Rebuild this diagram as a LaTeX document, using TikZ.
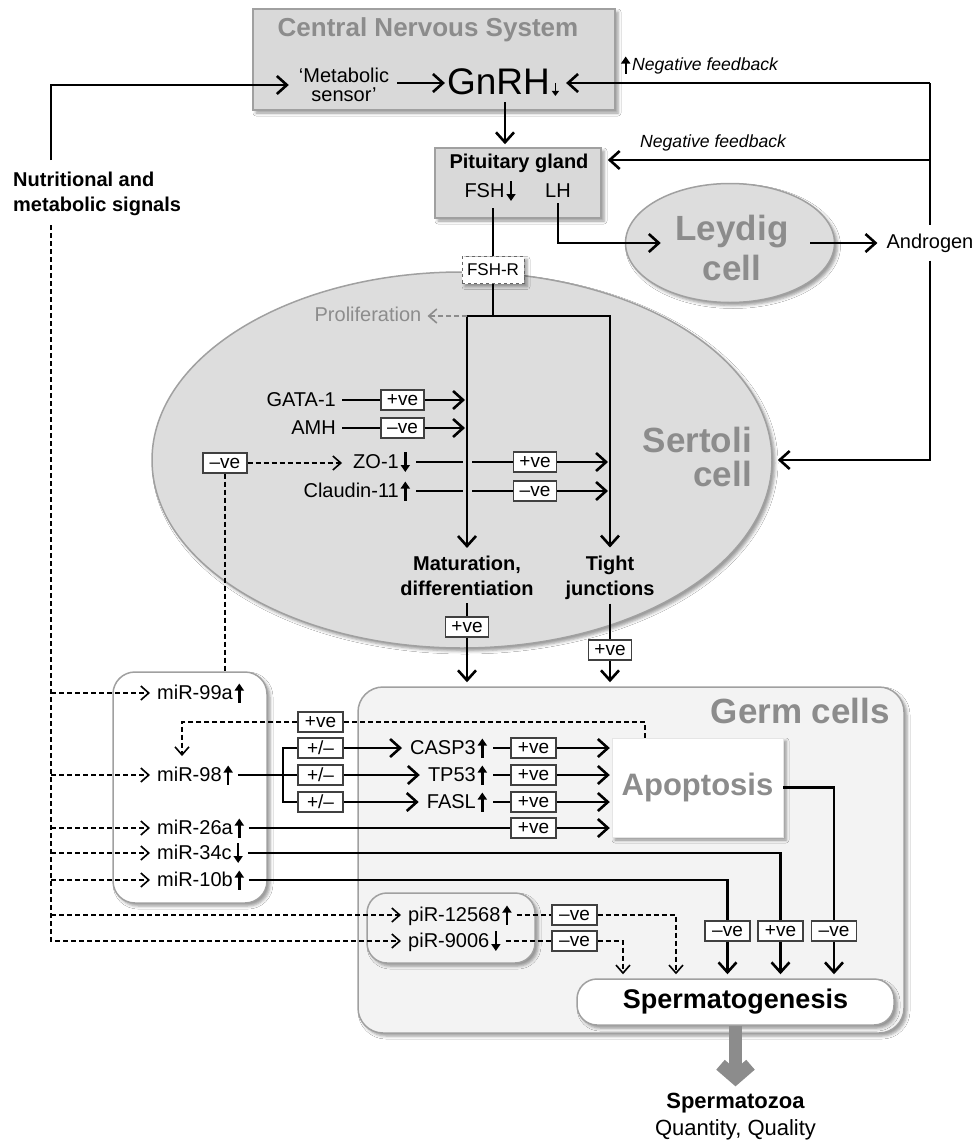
\documentclass[tikz,border=0pt]{standalone}
\usepackage{fontspec}
\setmainfont{Liberation Sans}
\usetikzlibrary{arrows.meta,shadows,shadows.blur,shapes.geometric,calc}
\definecolor{boxgray}{HTML}{D9D9D9}
\definecolor{cellgray}{HTML}{DDDDDD}
\definecolor{germgray}{HTML}{F3F3F3}
\definecolor{edgegray}{HTML}{A0A0A0}
\definecolor{titlegray}{HTML}{8C8C8C}
\newcommand{\arrowglyph}[2]{\tikz[x=1pt,y=1pt,baseline=0pt]{\draw[line width=#1,-{Triangle[length=7pt,width=9pt]}] #2;}}
\newcommand{\myup}{\hspace{2pt}\arrowglyph{2.5pt}{(0,-3) -- (0,16)}}
\newcommand{\mydn}{\hspace{2pt}\arrowglyph{2.5pt}{(0,16) -- (0,-4)}}
\newcommand{\mysmalldn}{\hspace{2pt}\tikz[x=1pt,y=1pt,baseline=0pt]{\draw[line width=1.8pt,-{Triangle[length=5pt,width=7pt]}] (0,12) -- (0,-1);}}
\tikzset{
  conn/.style={line width=2.6pt,-{Straight Barb[length=10pt,width=18pt,line width=2.6pt]}},
  plain/.style={line width=2.6pt},
  dconn/.style={line width=1.6pt,dash pattern=on 5pt off 3pt,-{Straight Barb[length=8pt,width=14pt,line width=1.6pt]}},
  dplain/.style={line width=1.6pt,dash pattern=on 5pt off 3pt},
  txt/.style={inner sep=0pt,font=\fontsize{20}{24}\selectfont},
  btxt/.style={inner sep=0pt,font=\fontsize{20}{25}\selectfont\bfseries,align=center},
  ttl/.style={inner sep=0pt,text=titlegray,font=\fontsize{35}{34}\selectfont\bfseries},
  fbtxt/.style={inner sep=0pt,font=\fontsize{17.6}{20}\selectfont\itshape},
  vbox/.style={draw=black!75,line width=1.3pt,fill=white,inner sep=0pt,minimum width=43pt,minimum height=20pt,font=\fontsize{19}{19}\selectfont},
  wbox/.style={vbox,minimum width=45pt,minimum height=20pt},
  shd/.style={blur shadow={shadow xshift=3pt,shadow yshift=-3pt,shadow blur radius=3pt,shadow opacity=40}},
  graybox/.style={draw=edgegray,line width=1.5pt,fill=boxgray,inner sep=0pt,shd},
  cellshape/.style={ellipse,draw=edgegray,line width=1.5pt,fill=cellgray,inner sep=0pt,shd},
  rbox/.style={draw=edgegray,line width=1.5pt,inner sep=0pt,shd},
}
\begin{document}
\begin{tikzpicture}[x=1pt,y=-1pt]
\useasboundingbox[fill=white] (0,0) rectangle (974,1143);
% ---------- background shapes
\node[graybox,minimum width=362pt,minimum height=101pt] (cns) at (434,59.5) {};
\node[graybox,minimum width=166pt,minimum height=70pt] (pit) at (518,183) {};
\node[cellshape,minimum width=209pt,minimum height=119pt] (leydig) at (730,243) {};
\node[cellshape,minimum width=620pt,minimum height=376pt] (sertoli) at (462,460) {};
\node[rbox,fill=germgray,rounded corners=25pt,minimum width=546pt,minimum height=346pt] (germ) at (631,860) {};
\node[rbox,fill=white,rounded corners=22pt,minimum width=154pt,minimum height=231pt] (mirbox) at (190,787.5) {};
\node[draw=black!10,fill=white,inner sep=0pt,shd,minimum width=171pt,minimum height=99pt,
      font=\fontsize{31}{31}\selectfont\bfseries,text=titlegray] (apop) at (697.5,787.5) {Apoptosis};
\node[rbox,fill=germgray,rounded corners=20pt,minimum width=168pt,minimum height=70pt] (pirbox) at (451,928) {};
\node[rbox,fill=white,rounded corners=20pt,minimum width=317pt,minimum height=46pt,
      font=\fontsize{27}{27}\selectfont\bfseries] (sperm) at (735.5,1002) {Spermatogenesis};
% ---------- titles and texts
\node[inner sep=0pt,text=titlegray,font=\fontsize{26}{28}\selectfont\bfseries] (cnst) at (428,30) {Central Nervous System};
\node[txt,align=center,font=\fontsize{20}{19}\selectfont] (meta) at (344,85) {‘Metabolic\\sensor’};
\node[inner sep=0pt,font=\fontsize{37}{40}\selectfont] (gnrh) at (503,83) {GnRH\mysmalldn};
\node[fbtxt,anchor=west] (nfb1) at (621,65) {\arrowglyph{2.2pt}{(0,-3) -- (0,14)}\hspace{2pt}Negative feedback};
\node[fbtxt,anchor=west] (nfb2) at (640,143) {Negative feedback};
\node[btxt,align=left,anchor=north west] (nutri) at (13,172) {Nutritional and\\metabolic signals};
\node[inner sep=0pt,font=\fontsize{20}{22}\selectfont\bfseries] (pitt) at (519,163) {Pituitary gland};
\node[txt] (fsh) at (490,191) {FSH\mydn};
\node[txt] (lh) at (558,191) {LH};
\node[inner sep=0pt,text=titlegray,font=\fontsize{35}{40}\selectfont\bfseries,align=center] (leyt) at (732,248) {Leydig\\cell};
\node[txt] (andr) at (930,243) {Androgen};
\node[draw=black!60,dashed,fill=white,line width=1pt,inner sep=0pt,minimum width=62pt,minimum height=27pt,
      font=\fontsize{17}{18}\selectfont,shd] (fshr) at (493,270) {FSH-R};
\node[txt,text=black!45] (prolif) at (368,314) {Proliferation};
\node[ttl,align=right,anchor=east] (sertt) at (752,457) {Sertoli\\cell};
\node[txt,anchor=east] (gata) at (336,400) {GATA-1};
\node[txt,anchor=east] (amh) at (336,428) {AMH};
\node[txt,anchor=east] (zo) at (410,462) {ZO-1\mydn};
\node[txt,anchor=east] (cl) at (410,491) {Claudin-11\myup};
\node[btxt] (mat) at (467,576) {Maturation,\\differentiation};
\node[btxt] (tj) at (610,577.5) {Tight\\junctions};
\node[ttl,anchor=east] (germt) at (890,711) {Germ cells};
\node[txt,anchor=west] (m99) at (157,693) {miR-99a\myup};
\node[txt,anchor=west] (m98) at (157,775) {miR-98\myup};
\node[txt,anchor=west] (m26) at (157,828) {miR-26a\myup};
\node[txt,anchor=west] (m34) at (157,853) {miR-34c\mydn};
\node[txt,anchor=west] (m10) at (157,880) {miR-10b\myup};
\node[txt,anchor=east] (casp) at (487,748) {CASP3\myup};
\node[txt,anchor=east] (tp) at (487,775) {TP53\myup};
\node[txt,anchor=east] (fasl) at (487,802) {FASL\myup};
\node[txt,anchor=west] (pir1) at (408,915) {piR-12568\myup};
\node[txt,anchor=west] (pir9) at (408,941) {piR-9006\mydn};
\node[inner sep=0pt,align=center,font=\fontsize{22}{27}\selectfont] (spz) at (735.5,1117) {\textbf{Spermatozoa}\\Quantity, Quality};
% ---------- label boxes
\node[vbox] (ve1) at (402.5,400) {+ve};
\node[vbox] (ve2) at (402.5,428) {–ve};
\node[vbox] (ve3) at (535,462) {+ve};
\node[vbox] (ve4) at (535,491) {–ve};
\node[wbox,minimum width=44pt] (ve5) at (225,463) {–ve};
\node[vbox] (ve6) at (467,627) {+ve};
\node[vbox] (ve7) at (610,650) {+ve};
\node[wbox] (ve8) at (320.5,722) {+ve};
\node[wbox] (pm1) at (320.5,748) {+/–};
\node[wbox] (pm2) at (320.5,775) {+/–};
\node[wbox] (pm3) at (320.5,802) {+/–};
\node[wbox] (vc1) at (533.5,748) {+ve};
\node[wbox] (vc2) at (533.5,775) {+ve};
\node[wbox] (vc3) at (533.5,802) {+ve};
\node[wbox] (vc4) at (533.5,828) {+ve};
\node[wbox] (b1) at (727.5,931) {–ve};
\node[wbox] (b2) at (780.5,931) {+ve};
\node[wbox] (b3) at (834,931) {–ve};
\node[wbox] (n1) at (574.5,915) {–ve};
\node[wbox] (n2) at (574.5,941) {–ve};
% ---------- helper coordinates
\coordinate (lx) at (51,0);
\coordinate (rx) at (930,0);
\coordinate (gx) at (505,0);
\coordinate (fx) at (493,0);
\coordinate (fb2) at (930,160);
\coordinate (bl) at (467,316);
\coordinate (br) at (610,316);
\coordinate (fbx) at (645,0);
\coordinate (m98x) at (182,0);
\coordinate (brx) at (283,0);
\coordinate (p1x) at (676,0);
\coordinate (p9x) at (623,0);
% ---------- top connectors
\draw[conn,shorten >=10pt] ($(lx|-nutri.north)+(0,-12)$) |- (meta.west);
\draw[conn,shorten <=8pt,shorten >=2pt] (meta.east|-gnrh.west) -- (gnrh.west);
\draw[conn,shorten >=7pt] (rx|-gnrh.east) -- (gnrh.east);
\draw[plain,shorten >=8pt] (rx|-gnrh.east) -- (andr.north);
\draw[conn,shorten <=8pt,shorten >=5pt] (andr.south) |- (sertoli.east);
\draw[conn,shorten >=3pt] ($(gx|-gnrh.south)+(0,5)$) -- (gx|-pit.north);
\draw[conn,shorten >=6pt] (fb2) -- (pit.east|-fb2);
\draw[conn] ($(lh.south)+(0,5)$) |- ($(leydig.west)+(36,0)$);
\draw[conn,shorten >=9pt] ($(leydig.east)+(-25,0)$) -- (andr.west);
\draw[plain,shorten <=6pt] (fx|-fsh.south) -- (fshr.north);
\draw[plain] (fshr.south) -- (fx|-bl);
\draw[conn,shorten >=8pt] (br) -| (mat.north);
\draw[conn,shorten >=8pt] (bl) -| (tj.north);
\draw[dconn,draw=black!45,shorten >=6pt] (bl) -- (bl-|prolif.east);
% ---------- Sertoli cell
\draw[plain] ($(gata.east)+(6,0)$) -- (ve1.west);
\draw[conn,shorten >=2pt] (ve1.east) -- (ve1.east-|bl);
\draw[plain] ($(amh.east)+(6,0)$) -- (ve2.west);
\draw[conn,shorten >=2pt] (ve2.east) -- (ve2.east-|bl);
\draw[plain] ($(zo.east)+(6,0)$) -- ($(zo.east-|bl)+(-4,0)$);
\draw[plain] ($(zo.east-|bl)+(5,0)$) -- (ve3.west);
\draw[conn,shorten >=2pt] (ve3.east) -- (ve3.east-|br);
\draw[plain] ($(cl.east)+(6,0)$) -- ($(cl.east-|bl)+(-4,0)$);
\draw[plain] ($(cl.east-|bl)+(5,0)$) -- (ve4.west);
\draw[conn,shorten >=2pt] (ve4.east) -- (ve4.east-|br);
\draw[dconn,shorten >=11pt] (ve5.east) -- (ve5.east-|zo.west);
\draw[dplain] (ve5.south) -- (ve5.south|-mirbox.north);
\draw[plain] ($(mat.south)+(0,7)$) -- (ve6.north);
\draw[conn,shorten >=4pt] (ve6.south) -- (ve6.south|-germ.north);
\draw[plain] ($(tj.south)+(0,4)$) -- (ve7.north);
\draw[conn,shorten >=4pt] (ve7.south) -- (ve7.south|-germ.north);
% ---------- nutritional dashed inputs
\draw[dconn,shorten >=7pt] ($(lx|-nutri.south)+(0,9)$) |- (pir9.west);
\draw[dconn,shorten >=7pt] (lx|-m99.west) -- (m99.west);
\draw[dconn,shorten >=7pt] (lx|-m98.west) -- (m98.west);
\draw[dconn,shorten >=7pt] (lx|-m26.west) -- (m26.west);
\draw[dconn,shorten >=7pt] (lx|-m34.west) -- (m34.west);
\draw[dconn,shorten >=7pt] (lx|-m10.west) -- (m10.west);
\draw[dconn,shorten >=7pt] (lx|-pir1.west) -- (pir1.west);
% ---------- germ cells
\draw[dplain] (fbx|-apop.north) |- (ve8.east);
\draw[dconn,shorten >=8pt] (ve8.west) -| (m98x|-m98.north);
\draw[plain] ($(m98.east)+(5,0)$) -- (pm2.west);
\draw[plain] (pm1.west) -| (brx|-pm3) -- (pm3.west);
\draw[conn,shorten >=8pt] (pm1.east) -- (casp.west);
\draw[conn,shorten >=8pt] (pm2.east) -- (tp.west);
\draw[conn,shorten >=8pt] (pm3.east) -- (fasl.west);
\draw[plain] ($(casp.east)+(6,0)$) -- (vc1.west);
\draw[plain] ($(tp.east)+(6,0)$) -- (vc2.west);
\draw[plain] ($(fasl.east)+(6,0)$) -- (vc3.west);
\draw[plain] ($(m26.east)+(5,0)$) -- (vc4.west);
\draw[conn,shorten >=2pt] (vc1.east) -- (vc1.east-|apop.west);
\draw[conn,shorten >=2pt] (vc2.east) -- (vc2.east-|apop.west);
\draw[conn,shorten >=2pt] (vc3.east) -- (vc3.east-|apop.west);
\draw[conn,shorten >=2pt] (vc4.east) -- (vc4.east-|apop.west);
\draw[plain] ($(m34.east)+(5,0)$) -| (b2.north);
\draw[plain] ($(m10.east)+(5,0)$) -| (b1.north);
\draw[plain] (apop.east) -| (b3.north);
\draw[conn,shorten >=4pt] (b1.south) -- (b1.south|-sperm.north);
\draw[conn,shorten >=4pt] (b2.south) -- (b2.south|-sperm.north);
\draw[conn,shorten >=4pt] (b3.south) -- (b3.south|-sperm.north);
\draw[dplain] ($(pir1.east)+(5,0)$) -- (n1.west);
\draw[dconn,shorten >=4pt] (n1.east) -| (p1x|-sperm.north);
\draw[dplain] ($(pir9.east)+(5,0)$) -- (n2.west);
\draw[dconn,shorten >=4pt] (n2.east) -| (p9x|-sperm.north);
% ---------- output
\draw[line width=13pt,titlegray,-{Straight Barb[length=13pt,width=30pt]},shorten >=7pt] (sperm.south) -- (spz.north);
\end{tikzpicture}
\end{document}
